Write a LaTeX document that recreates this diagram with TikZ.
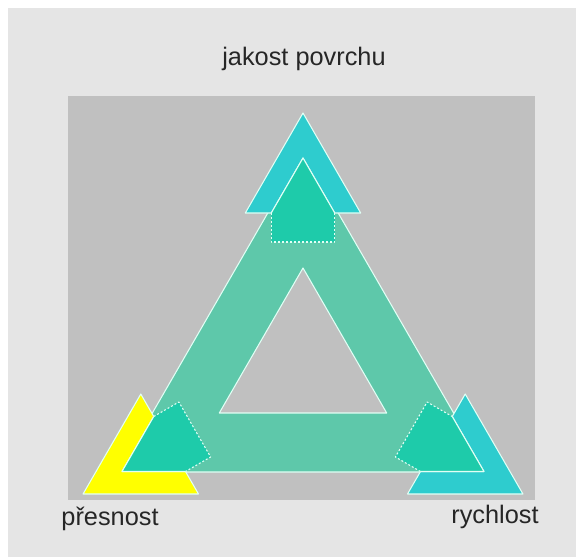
\documentclass[tikz,border=0pt]{standalone}
\usepackage{fontspec}
\setmainfont{Liberation Sans}
\usetikzlibrary{positioning}
\definecolor{panelgray}{RGB}{229,229,229}
\definecolor{boxgray}{RGB}{192,192,192}
\definecolor{bandteal}{RGB}{94,200,170}
\definecolor{arrowteal}{RGB}{30,203,170}
\definecolor{tipcyan}{RGB}{46,204,206}
\definecolor{tipyellow}{RGB}{255,255,0}
\definecolor{edgewhite}{RGB}{225,255,245}

\begin{document}
\begin{tikzpicture}[x=0.75pt,y=-0.75pt,line join=round,
  tagtext/.style={font=\fontsize{19}{21}\selectfont,text=black!85,anchor=base,inner sep=0pt}]
 \useasboundingbox (0,0) rectangle (576,557);
 \fill[panelgray] (8,8) rectangle (576,557);
 \fill[boxgray] (68,96) rectangle (535,500);
 \coordinate (c) at (303,367);
 % Pás: velký trojúhelník s otvorem.
 \filldraw[draw=edgewhite,line width=0.8pt,fill=bandteal,even odd rule]
  (303,152)--(118.3,472)--(487.7,472)--cycle
  (303,268)--(219.3,413)--(386.7,413)--cycle;
 % Rohy: šipka do každého rohu.
 \foreach \ang/\col in {0/tipcyan,120/tipyellow,-120/tipcyan}{
  \begin{scope}[rotate around={\ang:(c)}]
   \filldraw[draw=edgewhite,line width=0.8pt,fill=\col,even odd rule]
    (303,113)--(245.3,213)--(360.7,213)--cycle
    (303,158)--(271.25,213)--(334.75,213)--cycle;
   \fill[arrowteal]
    (303,158)--(334.75,213)--(334.75,242)--(271.25,242)--(271.25,213)--cycle;
   \draw[edgewhite,line width=0.8pt]
    (271.25,213)--(303,158)--(334.75,213);
   \draw[edgewhite,line width=0.8pt,dash pattern=on 1.5pt off 1.5pt]
    (334.75,213)--(334.75,242)--(271.25,242)--(271.25,213);
  \end{scope}
 }
 \node[tagtext] (quality) at (304,65) {jakost povrchu};
 \node[tagtext] (precision) at (110,525) {přesnost};
 \node[tagtext] (speed) at (495,523) {rychlost};
\end{tikzpicture}
\end{document}
